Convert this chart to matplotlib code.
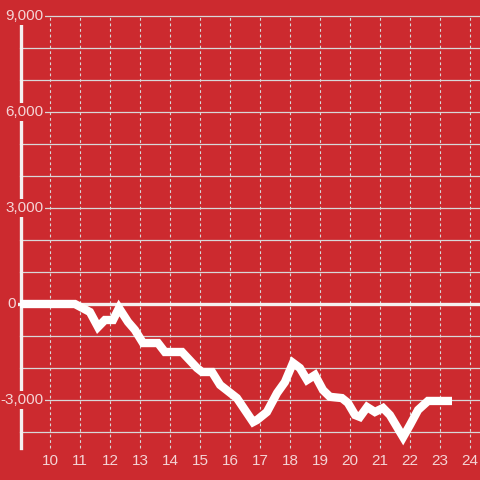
import numpy as np
import matplotlib.pyplot as plt

# hours of day and running total
hours = [9.0, 10.83, 11.33, 11.6, 11.83, 12.1, 12.3, 12.6, 12.83, 13.1, 13.6,
         13.83, 14.4, 14.9, 15.07, 15.4, 15.67, 16.23, 16.77, 16.9, 17.23,
         17.57, 17.83, 18.1, 18.33, 18.57, 18.83, 19.1, 19.33, 19.73, 19.93,
         20.17, 20.33, 20.57, 20.83, 21.1, 21.33, 21.77, 22.0, 22.27, 22.6, 23.4]
values = [0, 0, -250, -720, -500, -500, -125, -560, -810, -1220, -1220,
          -1500, -1500, -2000, -2125, -2125, -2530, -2940, -3690, -3625, -3375,
          -2780, -2440, -1840, -2000, -2375, -2220, -2690, -2900, -2940, -3090,
          -3470, -3530, -3220, -3375, -3250, -3470, -4160, -3780, -3310, -3030, -3030]

x_ticks = list(range(10, 25))
y_grid = list(range(-4000, 10000, 1000))
y_labels = [-3000, 0, 3000, 6000, 9000]

bg = '#cc2a2f'
txt = '#f4d4d5'
grid = '#d8d8d8'

fig = plt.figure(figsize=(4.8, 4.8), dpi=100, facecolor=bg)
ax = fig.add_axes([0, 0, 1, 1], facecolor=bg)
ax.set_xlim(9 - 20 / 30, 9 + 460 / 30)
ax.set_ylim(-5500, 9500)
ax.axis('off')

# grid
for y in y_grid:
    if y != 0:
        ax.plot([9, 25], [y, y], color=grid, lw=0.9, zorder=1)
for x in x_ticks:
    ax.plot([x, x], [-4500, 9000], color=grid, lw=0.8, ls=(0, (2.5, 2.5)), zorder=1)

# y axis and zero line
ax.plot([9.02, 9.02], [-4500, 9000], color='#f5f0f0', lw=2.4, zorder=2)
ax.plot([8.9, 25], [0, 0], color='#f5f0f0', lw=2.4, zorder=2)

# data line
ax.plot(hours, values, color='white', lw=6, solid_joinstyle='miter',
        solid_capstyle='butt', zorder=4)

# labels
for y in y_labels:
    xpos = 8.87 if y == 0 else 9.77
    lab = '{:,}'.format(y)
    ax.text(xpos, y, lab, ha='right', va='center', color=txt, fontsize=11,
            family='Liberation Sans', zorder=3,
            bbox=dict(facecolor=bg, edgecolor='none', pad=1.5))
for x in x_ticks:
    ax.text(x, -4906, str(x), ha='center', va='center', color=txt,
            fontsize=11, family='Liberation Sans', zorder=3)

fig.savefig('out.png', dpi=100, facecolor=bg)
